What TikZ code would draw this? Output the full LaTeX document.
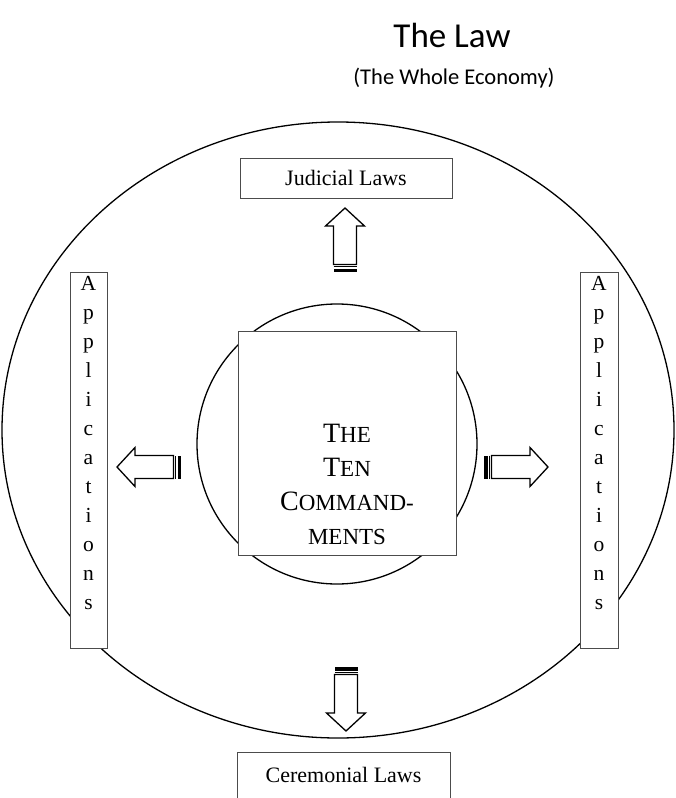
\documentclass[tikz,border=0pt]{standalone}
\usepackage{fontspec}
\setmainfont{Liberation Serif}
\newfontfamily\titlefont{Carlito}
\newcommand\fakesc[2]{#1{\fontsize{23}{34}\selectfont #2}}
\begin{document}
\begin{tikzpicture}[x=1pt,y=-1pt,
  lawbox/.style={draw=black!70, line width=0.8pt, fill=white, inner sep=0pt},
  ring/.style={draw=black, line width=1.3pt},
  arrowline/.style={draw=black, line width=1.3pt, fill=white, line join=miter},
  boxtext/.style={font=\fontsize{22}{26}\selectfont},
  lettertext/.style={font=\fontsize{21.5}{29}\selectfont, align=center, inner sep=0pt},
  stripearrow/.pic={
    \fill[black] (0,-11.5) rectangle (3.5,11.5);
    \draw[line width=1pt] (5.5,-11.5) -- (5.5,11.5);
    \draw[arrowline] (7.5,-11.5) -- (46,-11.5) -- (46,-19.5) -- (64,0) -- (46,19.5) -- (46,11.5) -- (7.5,11.5) -- cycle;
  }]
\useasboundingbox (0,0) rectangle (675,798);
\fill[white] (0,0) rectangle (675,798);

\node[font=\titlefont\fontsize{35}{40}\selectfont] (title) at (452,35) {The Law};
\node[font=\titlefont\fontsize{22.5}{26}\selectfont] (sub) at (454,78) {(The Whole Economy)};

\draw[ring] (338,430) ellipse [x radius=336, y radius=308];

\node[ring, circle, minimum size=280, inner sep=0pt] (inner) at (337,444) {};
\node[lawbox, minimum width=218, minimum height=224] (ten) at (347,443) {};
\node[align=center, font=\fontsize{28}{34}\selectfont, inner sep=0pt] (tentext) at (347,484)
  {\fakesc{T}{HE}\\\fakesc{T}{EN}\\\fakesc{C}{OMMAND-}\\{\fontsize{23}{34}\selectfont MENTS}};

\node[lawbox, boxtext, minimum width=212, minimum height=40] (jud) at (346,178) {Judicial Laws};
\node[lawbox, boxtext, minimum width=213, minimum height=46] (cer) at (343.5,775) {Ceremonial Laws};

\node[lawbox, minimum width=37, minimum height=376] (appL) at (88.5,460) {};
\node[lettertext] (appLt) at (appL.center) [yshift=17pt] {A\\p\\p\\l\\i\\c\\a\\t\\i\\o\\n\\s};
\node[lawbox, minimum width=38, minimum height=376] (appR) at (599,460) {};
\node[lettertext] (appRt) at (appR.center) [yshift=17pt] {A\\p\\p\\l\\i\\c\\a\\t\\i\\o\\n\\s};

\pic[rotate=90] (up) at (345,272) {stripearrow};
\pic[rotate=270] (down) at (346,667) {stripearrow};
\pic[rotate=180] (left) at (181,467) {stripearrow};
\pic[rotate=0] (right) at (484,467) {stripearrow};
\end{tikzpicture}
\end{document}
